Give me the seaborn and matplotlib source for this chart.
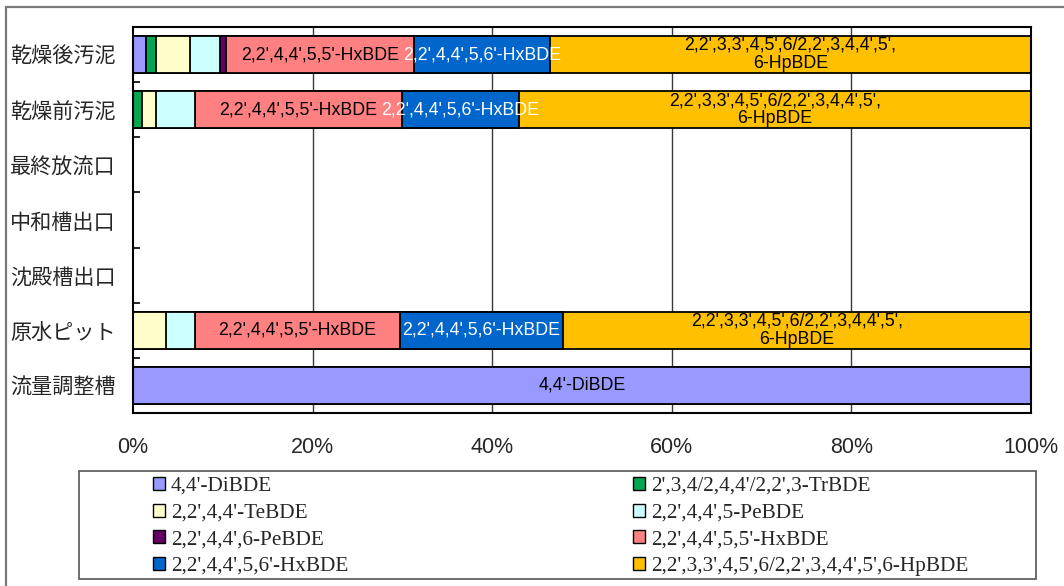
import numpy as np
import pandas as pd
import matplotlib
matplotlib.use("Agg")
import matplotlib.pyplot as plt
from matplotlib import font_manager
from matplotlib.patches import Rectangle
from matplotlib.lines import Line2D
import seaborn as sns

# ---- data (share of each congener, %) ----
categories = ['乾燥後汚泥', '乾燥前汚泥', '最終放流口', '中和槽出口',
              '沈殿槽出口', '原水ピット', '流量調整槽']

series_names = ["4,4'-DiBDE",
                "2',3,4/2,4,4'/2,2',3-TrBDE",
                "2,2',4,4'-TeBDE",
                "2,2',4,4',5-PeBDE",
                "2,2',4,4',6-PeBDE",
                "2,2',4,4',5,5'-HxBDE",
                "2,2',4,4',5,6'-HxBDE",
                "2,2',3,3',4,5',6/2,2',3,4,4',5',6-HpBDE"]

di_bde   = [1.4, 0.0, 0, 0, 0, 0.0, 100.0]
tr_bde   = [1.2, 1.0, 0, 0, 0, 0.0, 0.0]
te_bde   = [3.8, 1.6, 0, 0, 0, 3.7, 0.0]
pe5_bde  = [3.3, 4.3, 0, 0, 0, 3.2, 0.0]
pe6_bde  = [0.7, 0.0, 0, 0, 0, 0.0, 0.0]
hx55_bde = [20.9, 23.0, 0, 0, 0, 22.8, 0.0]
hx56_bde = [15.1, 13.1, 0, 0, 0, 18.2, 0.0]
hp_bde   = [53.6, 57.0, 0, 0, 0, 52.1, 0.0]

xtick_values = [0, 20, 40, 60, 80, 100]
xtick_labels = ['0%', '20%', '40%', '60%', '80%', '100%']

# in-bar labels (None = no label)
bar_labels = ["4,4'-DiBDE", None, None, None, None,
              "2,2',4,4',5,5'-HxBDE",
              "2,2',4,4',5,6'-HxBDE",
              "2,2',3,3',4,5',6/2,2',3,4,4',5',\n6-HpBDE"]
label_colors = ['black', 'black', 'black', 'black', 'black', 'black', 'white', 'black']

colors = ['#9999FF', '#00A650', '#FFFFCC', '#CCFFFF',
          '#660066', '#FF8080', '#0066CC', '#FFC000']

series = [di_bde, tr_bde, te_bde, pe5_bde, pe6_bde, hx55_bde, hx56_bde, hp_bde]

# ---- fonts ----
def have(name):
    try:
        font_manager.findfont(name, fallback_to_default=False)
        return True
    except Exception:
        return False

narrow = 'Liberation Sans Narrow' if have('Liberation Sans Narrow') else 'Liberation Sans'

sns.set_theme(style='white')
plt.rcParams['font.family'] = ['Noto Sans CJK JP', 'DejaVu Sans']

fig = plt.figure(figsize=(10.64, 5.86), dpi=100)
ax = fig.add_axes([133 / 1064, 1 - 413 / 586, (1031 - 133) / 1064, (413 - 27) / 586])

# ---- stacked bars: draw cumulative totals from the longest down ----
vals = np.array(series, dtype=float)          # (n_series, n_categories)
cum = np.cumsum(vals, axis=0)
for k in range(len(series) - 1, -1, -1):
    df = pd.DataFrame({'category': categories, 'value': cum[k]})
    sns.barplot(data=df, x='value', y='category', order=categories, orient='h',
                color=colors[k], saturation=1, edgecolor='black', linewidth=1.3,
                width=0.67, errorbar=None, ax=ax, zorder=3)

# ---- segment labels ----
for k in range(len(series)):
    if bar_labels[k] is None:
        continue
    for i, cat in enumerate(categories):
        w = vals[k, i]
        if w < 10:
            continue
        center = cum[k, i] - w / 2
        ax.text(center, i, bar_labels[k], ha='center', va='center',
                fontsize=12.8, color=label_colors[k], family='Liberation Sans',
                linespacing=1.1, zorder=5)

# ---- axes styling ----
ax.set_xlim(0, 100)
ax.set_ylim(len(categories) - 0.5, -0.5)
ax.set_xticks(xtick_values)
ax.set_xticklabels(xtick_labels, family=narrow, fontsize=15.5)
ax.set_yticks(range(len(categories)))
ax.set_yticklabels(categories, fontsize=15.2)
ax.set_xlabel('')
ax.set_ylabel('')
ax.tick_params(axis='x', length=0, pad=17)
ax.tick_params(axis='y', which='major', length=0, pad=12.5)
ax.set_yticks(np.arange(0.5, len(categories) - 0.5, 1.0), minor=True)
ax.tick_params(axis='y', which='minor', direction='in', length=5, width=1.2,
               color='black', left=True)
for x in xtick_values[1:-1]:
    ax.axvline(x, color='#3a3a3a', lw=1.0, zorder=1)
for sp in ax.spines.values():
    sp.set_color('black')
    sp.set_linewidth(1.5)
    sp.set_zorder(6)

# ---- outer chart border (top and left edges) ----
fig.add_artist(Line2D([6 / 1064, 1.0], [1 - 7 / 586, 1 - 7 / 586],
                      transform=fig.transFigure, color='#7a7a7a', lw=1.6))
fig.add_artist(Line2D([6 / 1064, 6 / 1064], [0.0, 1 - 7 / 586],
                      transform=fig.transFigure, color='#7a7a7a', lw=1.6))

# ---- legend: framed box with two columns ----
fig.add_artist(Rectangle((79 / 1064, 1 - 579 / 586), (1036 - 79) / 1064, (579 - 471) / 586,
                         transform=fig.transFigure, facecolor='white',
                         edgecolor='#555555', lw=1.2))
handles = [Rectangle((0, 0), 1, 1, facecolor=c, edgecolor='black', lw=1.0) for c in colors]
leg_kw = dict(frameon=False, handlelength=0.55, handleheight=0.55,
              handletextpad=0.3, labelspacing=0.36, borderpad=0, borderaxespad=0,
              prop={'family': 'Liberation Serif', 'size': 15.3})
cols = [[0, 2, 4, 6], [1, 3, 5, 7]]
x_starts = [153 / 1064, 633 / 1064]
for n, (col, xs) in enumerate(zip(cols, x_starts)):
    lg = fig.legend([handles[j] for j in col], [series_names[j] for j in col],
                    loc='upper left', bbox_to_anchor=(xs, 1 - 477 / 586),
                    bbox_transform=fig.transFigure, **leg_kw)

fig.savefig('out.png', dpi=100)
